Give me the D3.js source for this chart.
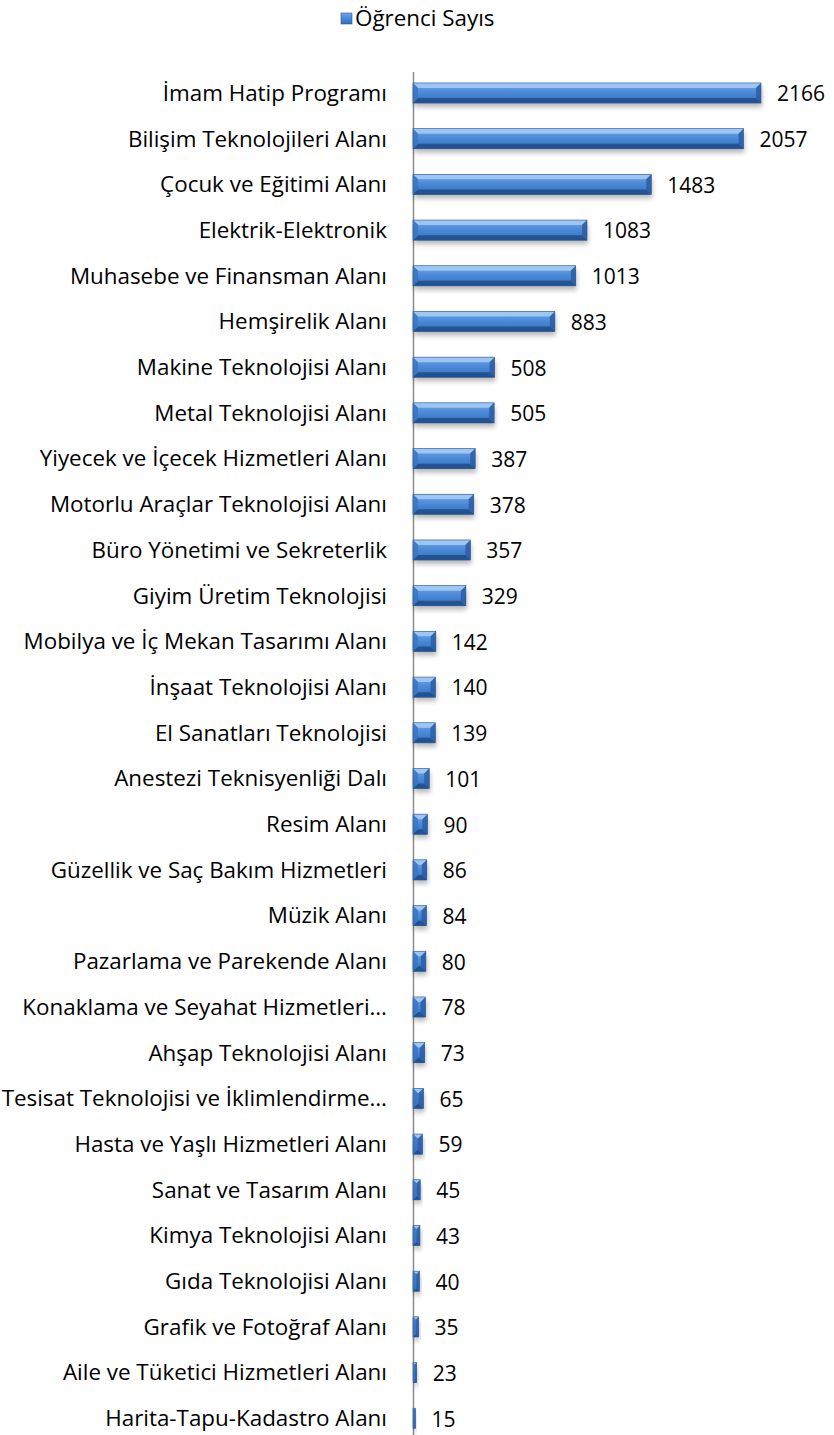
<!DOCTYPE html>
<html lang="tr">
<head>
<meta charset="UTF-8">
<title>Öğrenci Sayısı</title>
<script src="https://d3js.org/d3.v7.min.js"></script>
<style>
  body, html { margin: 0; background: #fff; }
  text { font-family: "Open Sans", Lato, sans-serif; fill: #000; }
</style>
</head>
<body>
<div id="chart"></div>
<script>
  // data
  var categories = [
    "İmam Hatip Programı", "Bilişim Teknolojileri Alanı", "Çocuk ve Eğitimi Alanı",
    "Elektrik-Elektronik", "Muhasebe ve Finansman Alanı", "Hemşirelik Alanı",
    "Makine Teknolojisi Alanı", "Metal Teknolojisi Alanı", "Yiyecek ve İçecek Hizmetleri Alanı",
    "Motorlu Araçlar Teknolojisi Alanı", "Büro Yönetimi ve Sekreterlik", "Giyim Üretim Teknolojisi",
    "Mobilya ve İç Mekan Tasarımı Alanı", "İnşaat Teknolojisi Alanı", "El Sanatları Teknolojisi",
    "Anestezi Teknisyenliği Dalı", "Resim Alanı", "Güzellik ve Saç Bakım Hizmetleri",
    "Müzik Alanı", "Pazarlama ve Parekende Alanı", "Konaklama ve Seyahat Hizmetleri…",
    "Ahşap Teknolojisi Alanı", "Tesisat Teknolojisi ve İklimlendirme…", "Hasta ve Yaşlı Hizmetleri Alanı",
    "Sanat ve Tasarım Alanı", "Kimya Teknolojisi Alanı", "Gıda Teknolojisi Alanı",
    "Grafik ve Fotoğraf Alanı", "Aile ve Tüketici Hizmetleri Alanı", "Harita-Tapu-Kadastro Alanı"
  ];
  var values = [2166, 2057, 1483, 1083, 1013, 883, 508, 505, 387, 378, 357, 329,
    142, 140, 139, 101, 90, 86, 84, 80, 78, 73, 65, 59, 45, 43, 40, 35, 23, 15];
  var seriesName = "Öğrenci Sayıs";

  var W = 834, H = 1435;
  var rows = categories.map(function (c, i) { return { name: c, val: values[i] }; });

  var svg = d3.select("#chart").append("svg")
    .attr("width", W).attr("height", H);

  var defs = svg.append("defs");
  var grad = defs.append("linearGradient").attr("id", "barGrad")
    .attr("x1", 0).attr("y1", 0).attr("x2", 0).attr("y2", 1);
  grad.append("stop").attr("offset", "0%").attr("stop-color", "#6ea6e6");
  grad.append("stop").attr("offset", "50%").attr("stop-color", "#4a88d6");
  grad.append("stop").attr("offset", "100%").attr("stop-color", "#336fba");

  var blur = defs.append("filter").attr("id", "shadow")
    .attr("x", "-20%").attr("y", "-50%").attr("width", "140%").attr("height", "200%");
  blur.append("feGaussianBlur").attr("stdDeviation", 2.5);

  var x = d3.scaleLinear().domain([0, 2166]).range([413, 761]);
  // step 45.7, first row centred at y=93
  var y = d3.scaleBand().domain(categories).range([70.15, 1441.15])
    .paddingInner(0.56).paddingOuter(0.28);

  // axis line
  svg.append("line")
    .attr("x1", 413.5).attr("x2", 413.5)
    .attr("y1", 72).attr("y2", H)
    .attr("stroke", "#8c8c8c").attr("stroke-width", 1.5);

  var g = svg.append("g").selectAll("g.bar").data(rows).enter()
    .append("g").attr("class", "bar");

  // soft shadow
  g.append("rect")
    .attr("x", function (d) { return x(0) + 1; })
    .attr("y", function (d) { return y(d.name) + 4; })
    .attr("width", function (d) { return Math.max(1, x(d.val) - x(0)); })
    .attr("height", y.bandwidth())
    .attr("fill", "#000").attr("opacity", 0.28)
    .attr("filter", "url(#shadow)");

  g.append("rect")
    .attr("x", x(0))
    .attr("y", function (d) { return y(d.name); })
    .attr("width", function (d) { return x(d.val) - x(0); })
    .attr("height", y.bandwidth())
    .attr("fill", "url(#barGrad)");

  // bevel facets
  function facets(d) {
    var x0 = x(0), x1 = x(d.val), y0 = y(d.name), h = y.bandwidth(), y1 = y0 + h;
    var b = Math.min(5, (x1 - x0) / 2, h / 2);
    return [
      { pts: [[x0, y0], [x1, y0], [x1 - b, y0 + b], [x0 + b, y0 + b]], c: "#a9cdf5", o: 0.85 },
      { pts: [[x0, y1], [x1, y1], [x1 - b, y1 - b], [x0 + b, y1 - b]], c: "#1f4c8a", o: 0.85 },
      { pts: [[x0, y0], [x0 + b, y0 + b], [x0 + b, y1 - b], [x0, y1]], c: "#3a74c0", o: 0.8 },
      { pts: [[x1, y0], [x1 - b, y0 + b], [x1 - b, y1 - b], [x1, y1]], c: "#2a5ea4", o: 0.85 }
    ];
  }
  g.selectAll("polygon").data(facets).enter().append("polygon")
    .attr("points", function (f) { return f.pts.map(function (p) { return p.join(","); }).join(" "); })
    .attr("fill", function (f) { return f.c; })
    .attr("opacity", function (f) { return f.o; });

  g.append("rect")
    .attr("x", x(0))
    .attr("y", function (d) { return y(d.name); })
    .attr("width", function (d) { return x(d.val) - x(0); })
    .attr("height", y.bandwidth())
    .attr("fill", "none").attr("stroke", "#2a5790").attr("stroke-width", 0.6);

  // category labels
  svg.append("g").selectAll("text").data(rows).enter().append("text")
    .attr("x", 387)
    .attr("y", function (d) { return y(d.name) + y.bandwidth() / 2; })
    .attr("dy", "0.35em")
    .attr("text-anchor", "end")
    .style("font-size", "22.4px")
    .text(function (d) { return d.name; });

  // value labels
  svg.append("g").selectAll("text").data(rows).enter().append("text")
    .attr("x", function (d) { return x(d.val) + 16; })
    .attr("y", function (d) { return y(d.name) + y.bandwidth() / 2 + 1; })
    .attr("dy", "0.35em")
    .style("font-size", "21px")
    .text(function (d) { return d.val; });

  // legend
  var lg = svg.append("g");
  lg.append("rect").attr("x", 341).attr("y", 13).attr("width", 11).attr("height", 11)
    .attr("fill", "url(#barGrad)").attr("stroke", "#2a5790").attr("stroke-width", 0.6);
  lg.append("text").attr("x", 355).attr("y", 26)
    .style("font-size", "22.4px")
    .text(seriesName);
</script>
</body>
</html>
